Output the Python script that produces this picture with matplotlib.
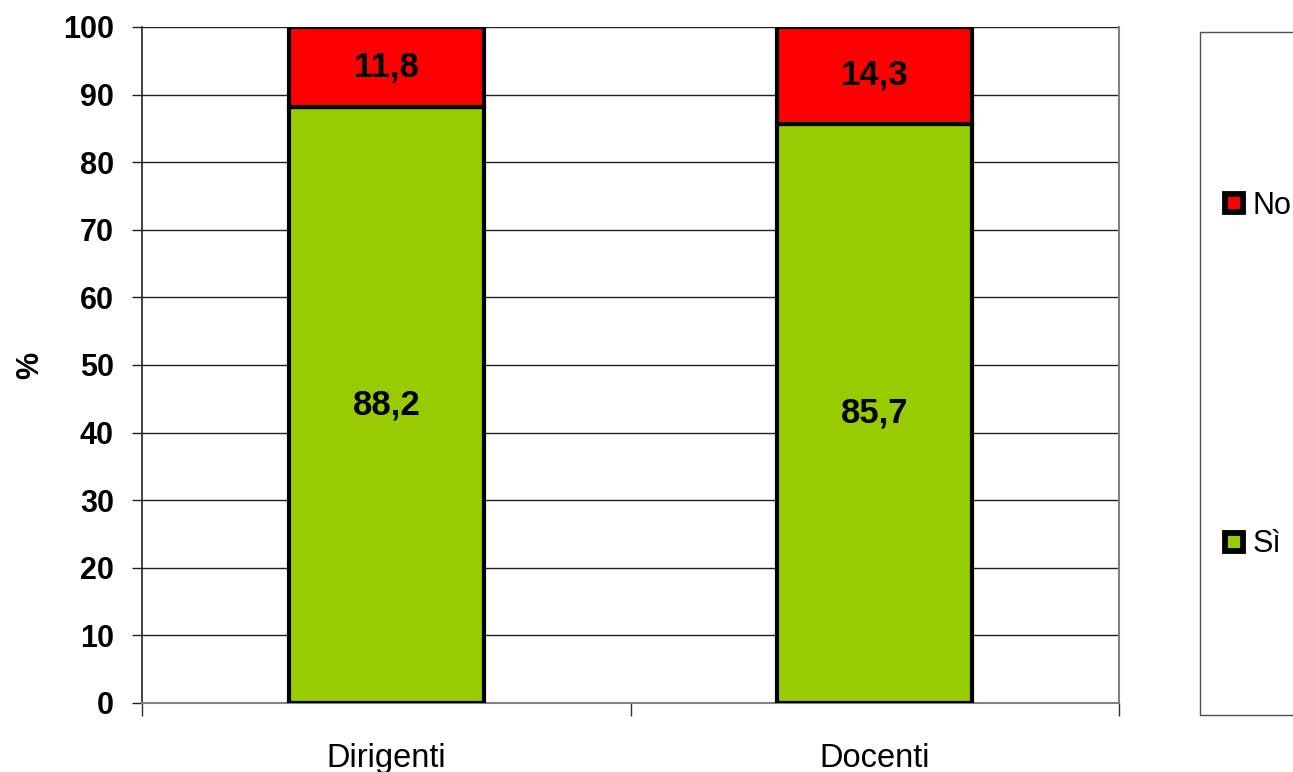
import matplotlib
matplotlib.use("Agg")
import matplotlib.pyplot as plt
from matplotlib.lines import Line2D
from matplotlib.patches import Rectangle
from matplotlib.ticker import FixedLocator, NullFormatter

# Survey answers by group (percent)
categories = ["Dirigenti", "Docenti"]
si_values = [88.2, 85.7]
no_values = [11.8, 14.3]
series_labels = ["Sì", "No"]
yticks = list(range(0, 101, 10))

GREEN = "#99cc00"
RED = "#ff0000"
W, H = 1293, 772

fig = plt.figure(figsize=(W / 100, H / 100), dpi=100)
ax = fig.add_axes([142 / W, 1 - 703 / H, (1119 - 142) / W, (703 - 27) / H])

x = list(range(len(categories)))
width = 0.40
ax.bar(x, si_values, width, color=GREEN, edgecolor="black", linewidth=3.0, zorder=3)
ax.bar(x, no_values, width, bottom=si_values, color=RED, edgecolor="black",
       linewidth=3.0, zorder=3)

def fmt(v):
    return f"{v:.1f}".replace(".", ",")

label_font = dict(family="Liberation Sans", fontweight="bold", fontsize=25, color="black")
for xi, s, n in zip(x, si_values, no_values):
    ax.text(xi, s / 2, fmt(s), ha="center", va="center", zorder=4, **label_font)
    ax.text(xi, s + n / 2, fmt(n), ha="center", va="center", zorder=4, **label_font)

ax.set_xlim(-0.5, len(categories) - 0.5)
ax.set_ylim(0, 100)
ax.set_yticks(yticks)
ax.set_yticklabels([str(t) for t in yticks],
                   fontdict=dict(family="Liberation Sans", fontweight="bold", fontsize=22))
ax.tick_params(axis="y", length=7.2, width=1, color="#202020", pad=13)

# category boundaries as major ticks, names on minor ticks
ax.xaxis.set_major_locator(FixedLocator([i - 0.5 for i in range(len(categories) + 1)]))
ax.xaxis.set_major_formatter(NullFormatter())
ax.xaxis.set_minor_locator(FixedLocator(x))
ax.set_xticklabels(categories, minor=True, family="Liberation Sans", fontsize=23.5)
ax.tick_params(axis="x", which="major", length=9.5, width=1, color="#303030", direction="out")
ax.tick_params(axis="x", which="minor", length=0, pad=29)

ax.yaxis.grid(True, color="#202020", linewidth=1.0, zorder=0)
ax.set_axisbelow(True)
ax.spines["left"].set_color("#202020")
ax.spines["left"].set_linewidth(1.2)
for side in ["bottom", "right"]:
    ax.spines[side].set_color("#808080")
    ax.spines[side].set_linewidth(1.5)
ax.spines["top"].set_visible(False)

ax.set_ylabel("%", family="Liberation Sans", fontweight="bold", fontsize=22, labelpad=13)

# legend panel on the right
fig.patches.append(Rectangle((1200 / W, 1 - 715 / H), 0.2, (715 - 32) / H,
                             transform=fig.transFigure, facecolor="white",
                             edgecolor="#505050", linewidth=1.0, zorder=0))
handles = [
    Line2D([], [], linestyle="none", marker="s", markersize=13.2, markerfacecolor=RED,
           markeredgecolor="black", markeredgewidth=4.2),
    Line2D([], [], linestyle="none", marker="s", markersize=13.2, markerfacecolor=GREEN,
           markeredgecolor="black", markeredgewidth=4.2),
]
leg = fig.legend(handles, [series_labels[1], series_labels[0]], loc="center left",
                 bbox_to_anchor=(1223 / W, 1 - 375 / H), borderaxespad=0, borderpad=0,
                 prop=dict(family="Liberation Sans", size=22), frameon=False,
                 labelspacing=10.1, handlelength=0.75, handletextpad=0.22)

fig.savefig("out.png", dpi=100)
